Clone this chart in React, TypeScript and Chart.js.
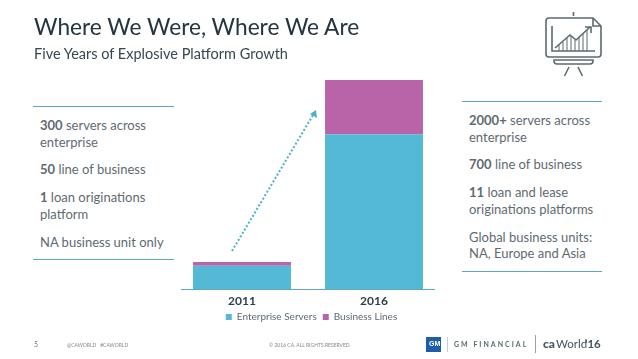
import React, { useEffect, useRef } from "react";
import { Chart, registerables } from "chart.js";

Chart.register(...registerables);

const categories = ["2011", "2016"];
const enterpriseServers = [300, 2000];
const businessLines = [50, 700];
const seriesNames = ["Enterprise Servers", "Business Lines"];
const seriesColors = ["#53b9d5", "#b964a8"];
const yMax = 2700;

const FONT = "Lato, 'Open Sans', sans-serif";

type Seg = { t: string; b?: boolean };
type Line = { x: number; y: number; segs: Seg[] };

const leftLines: Line[] = [
  { x: 40, y: 126, segs: [{ t: "300", b: true }, { t: " servers across" }] },
  { x: 40, y: 143, segs: [{ t: "enterprise" }] },
  { x: 40, y: 170, segs: [{ t: "50", b: true }, { t: " line of business" }] },
  { x: 40, y: 198, segs: [{ t: "1", b: true }, { t: " loan originations" }] },
  { x: 40, y: 215, segs: [{ t: "platform" }] },
  { x: 40, y: 243, segs: [{ t: "NA business unit only" }] },
];
const rightLines: Line[] = [
  { x: 469, y: 121, segs: [{ t: "2000+", b: true }, { t: " servers across" }] },
  { x: 469, y: 138, segs: [{ t: "enterprise" }] },
  { x: 469, y: 165, segs: [{ t: "700", b: true }, { t: " line of business" }] },
  { x: 469, y: 193, segs: [{ t: "11", b: true }, { t: " loan and lease" }] },
  { x: 469, y: 210, segs: [{ t: "originations platforms" }] },
  { x: 469, y: 238, segs: [{ t: "Global business units:" }] },
  { x: 469, y: 254, segs: [{ t: "NA, Europe and Asia" }] },
];

function Txt(p: { x: number; y: number; size: number; color: string; children: React.ReactNode; spacing?: number; weight?: number; font?: string }) {
  return (
    <div
      style={{
        position: "absolute",
        left: p.x,
        top: p.y,
        transform: "translateY(-50%)",
        fontFamily: p.font || FONT,
        fontSize: p.size,
        color: p.color,
        whiteSpace: "pre",
        letterSpacing: p.spacing,
        fontWeight: p.weight,
        lineHeight: 1.2,
      }}
    >
      {p.children}
    </div>
  );
}

function Rule(p: { x: number; y: number; w: number }) {
  return <div style={{ position: "absolute", left: p.x, top: p.y, width: p.w, height: 1, background: "#5aa9bf" }} />;
}

const axisLine = {
  id: "axisLine",
  afterLayout(chart: any) {
    chart.legend.left += 7;
  },
  afterDraw(chart: any) {
    const { ctx, scales } = chart;
    const yy = scales.y.getPixelForValue(0);
    ctx.save();
    ctx.strokeStyle = "#5aa9bf";
    ctx.lineWidth = 1;
    ctx.beginPath();
    ctx.moveTo(scales.x.left + 5, yy + 0.5);
    ctx.lineTo(scales.x.right - 5, yy + 0.5);
    ctx.stroke();
    ctx.restore();
  },
};

export default function App() {
  const ref = useRef<HTMLCanvasElement>(null);
  useEffect(() => {
    const chart = new Chart(ref.current!, {
      type: "bar",
      data: {
        labels: categories,
        datasets: [
          { label: seriesNames[0], data: enterpriseServers, backgroundColor: seriesColors[0], stack: "a" },
          { label: seriesNames[1], data: businessLines, backgroundColor: seriesColors[1], stack: "a" },
        ],
      },
      plugins: [axisLine],
      options: {
        animation: false,
        responsive: false,
        layout: { padding: { left: 0, right: 7, top: 80, bottom: 0 } },
        datasets: { bar: { categoryPercentage: 0.742, barPercentage: 1 } },
        scales: {
          x: {
            stacked: true,
            grid: { display: false, drawTicks: false },
            border: { display: false },
            ticks: { color: "#2b3f4c", padding: 5, font: { family: FONT, size: 12, weight: "bold" } },
            afterFit(s: any) { s.height = 17; },
          },
          y: { stacked: true, display: false, min: 0, max: yMax },
        },
        plugins: {
          tooltip: { enabled: false },
          legend: {
            position: "bottom",
            labels: {
              boxWidth: 6,
              boxHeight: 6,
              padding: 6,
              color: "#5f6a72",
              font: { family: FONT, size: 10 },
            },
          },
        },
      } as any,
    });
    return () => chart.destroy();
  }, []);

  return (
    <div style={{ position: "absolute", left: 0, top: 0, width: 638, height: 359, overflow: "hidden", background: "#fff" }}>
      <canvas ref={ref} width={271} height={332} style={{ position: "absolute", left: 176, top: 0, width: 271, height: 332 }} />

      <Txt x={34} y={27} size={22.7} color="#24353f">Where We Were, Where We Are</Txt>
      <Txt x={34} y={54} size={14.5} color="#37474f">Five Years of Explosive Platform Growth</Txt>

      <Rule x={33} y={106} w={141} />
      <Rule x={33} y={259} w={141} />
      <Rule x={462} y={101} w={140} />
      <Rule x={462} y={271} w={140} />

      {[...leftLines, ...rightLines].map((l, i) => (
        <Txt key={i} x={l.x} y={l.y} size={13} color="#5f6a72">
          {l.segs.map((s, j) => (
            <span key={j} style={{ fontWeight: s.b ? 700 : 400 }}>{s.t}</span>
          ))}
        </Txt>
      ))}

      <svg width={638} height={359} style={{ position: "absolute", left: 0, top: 0, pointerEvents: "none" }}>
        <line x1={232} y1={251} x2={313} y2={115} stroke="#4fb0cc" strokeWidth={2} strokeDasharray="2 2" />
        <polygon points="316,110 317,118 310,114" fill="#4fb0cc" />

        <g fill="none" stroke="#5c6a70" strokeWidth={1.6}>
          <line x1={573.5} y1={12} x2={573.5} y2={16} />
          <path d="M549 18 H593 L601 26 V54 Q601 57 598 57 H549 Q546 57 546 54 V21 Q546 18 549 18 Z" />
          <path d="M593 18 V26 H601" />
          <path d="M552 26 V51 H595" />
          <path d="M555 48 L570 35 L576 40 L590 27" />
          <path d="M585 27 H591 V33" />
          <path d="M559 45 V51 M563 42 V51 M567 38 V51 M571 36 V51 M575 40 V51 M579 37 V51 M583 33 V51 M587 30 V51" strokeWidth={1} />
          <path d="M554 60 H593 V61 Q593 64 590 64 H557 Q554 64 554 61 Z" />
          <line x1={569} y1={67} x2={564.5} y2={76} />
          <line x1={578} y1={67} x2={582.5} y2={76} />
        </g>

        <rect x={426} y={337} width={15} height={15} fill="#1d5fa6" />
        <line x1={447.5} y1={337} x2={447.5} y2={352} stroke="#c9ced1" />
        <line x1={535.5} y1={335} x2={535.5} y2={353} stroke="#9aa3a8" />
      </svg>

      <Txt x={429} y={344} size={7} color="#ffffff" weight={700} font="'Liberation Sans'">GM</Txt>
      <Txt x={454} y={344} size={7} color="#5c6a70" spacing={2} weight={700}>GM FINANCIAL</Txt>
      <Txt x={543} y={344} size={12} color="#46545c" weight={900}>ca</Txt>
      <Txt x={556} y={344} size={11.5} color="#46545c">World</Txt>
      <Txt x={585} y={344} size={11.5} color="#46545c" weight={700}>'16</Txt>

      <Txt x={34} y={344} size={7} color="#6b767c">5</Txt>
      <Txt x={67} y={345} size={5} color="#7f898f">@CAWORLD   #CAWORLD</Txt>
      <Txt x={269} y={345} size={5} color="#7f898f">© 2016 CA. ALL RIGHTS RESERVED.</Txt>
    </div>
  );
}
